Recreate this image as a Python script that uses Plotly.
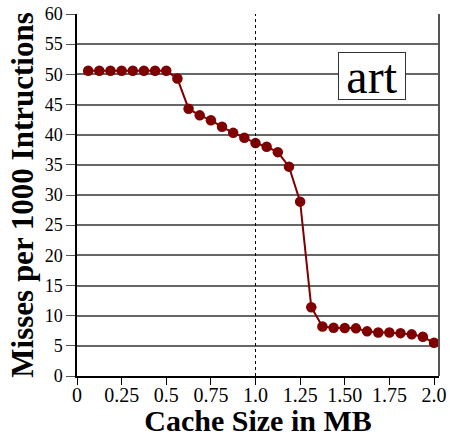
import plotly.graph_objects as go

# Cache size steps of 1/16 MB, from 64 KB up to 2 MB
cache_mb = [k / 16 for k in range(1, 33)]
misses = [50.6, 50.6, 50.6, 50.6, 50.6, 50.6, 50.6, 50.6,
          49.3, 44.3, 43.2, 42.4, 41.3, 40.3, 39.5, 38.6,
          38.0, 37.1, 34.7, 28.9, 11.4, 8.2, 8.0, 7.95,
          7.9, 7.4, 7.2, 7.2, 7.1, 6.9, 6.5, 5.5]

x_tick_vals = [0, 0.25, 0.5, 0.75, 1.0, 1.25, 1.5, 1.75, 2.0]
x_tick_text = ["0", "0.25", "0.5", "0.75", "1.0", "1.25", "1.50", "1.75", "2.0"]
y_tick_vals = list(range(0, 61, 5))

serif = "Liberation Serif"

fig = go.Figure()
fig.add_trace(go.Scatter(
    x=cache_mb, y=misses, mode="lines+markers",
    line=dict(color="#7f0000", width=2),
    marker=dict(color="#7f0000", size=10.5),
    showlegend=False,
))

# dotted marker at 1 MB
fig.add_shape(type="line", xref="x", yref="y", x0=1.0, x1=1.0, y0=0, y1=60,
              line=dict(color="black", width=1, dash="dot"))

fig.add_annotation(
    x=1.654, y=49.8, xref="x", yref="y", text="art", showarrow=False,
    font=dict(family=serif, size=48, color="black"),
    width=66, height=46, align="center", valign="middle",
    bgcolor="white", bordercolor="#333", borderwidth=1, borderpad=0,
)

fig.update_layout(
    width=450, height=437,
    margin=dict(l=77, r=11, t=14, b=61),
    paper_bgcolor="white", plot_bgcolor="white",
    font=dict(family=serif, color="black"),
)
fig.update_xaxes(
    range=[0, 2.028], tickvals=x_tick_vals, ticktext=x_tick_text,
    ticks="outside", ticklen=7, tickcolor="black", tickwidth=1,
    ticklabelstandoff=-7,
    tickfont=dict(family=serif, size=20, color="black"),
    showgrid=False, zeroline=False, automargin=False,
    showline=True, linecolor="black", linewidth=1.5, mirror=False,
    title=dict(text="<b>Cache Size in MB</b>", font=dict(family=serif, size=30), standoff=2),
)
fig.update_yaxes(
    range=[0, 60], tickvals=y_tick_vals,
    ticks="outside", ticklen=9, tickcolor="#555", tickwidth=1,
    tickfont=dict(family=serif, size=18, color="black"),
    showgrid=True, gridcolor="#666", gridwidth=2, zeroline=False, automargin=False,
    showline=True, linecolor="black", linewidth=1.5, mirror=False,
    title=dict(text="<b>Misses per 1000 Intructions</b>", font=dict(family=serif, size=31), standoff=2),
)
# right border of the frame
fig.add_shape(type="line", xref="paper", yref="paper", x0=1, x1=1, y0=0, y1=1,
              line=dict(color="#555", width=2))

fig.write_html("out.html")
